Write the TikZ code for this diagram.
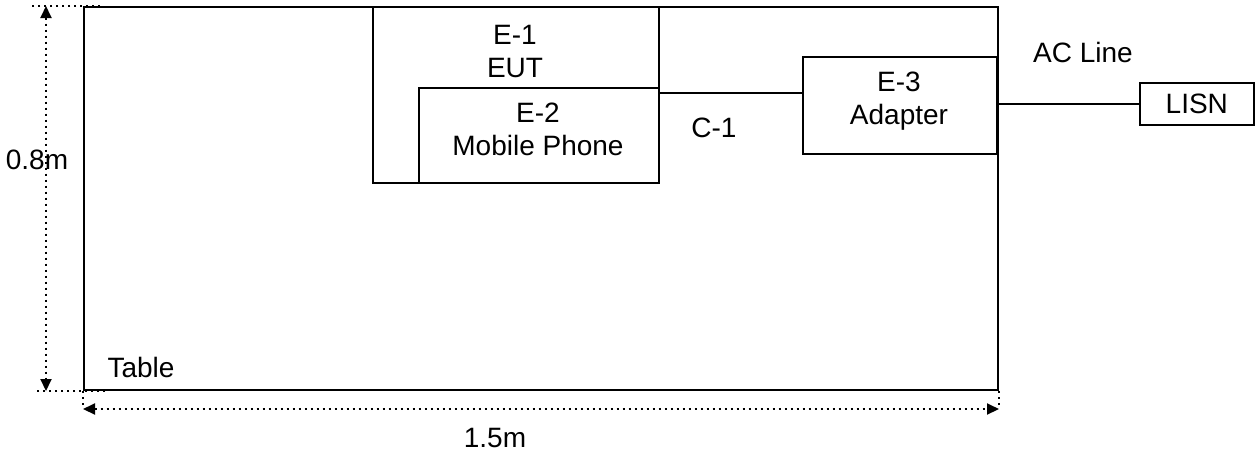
\documentclass[tikz,border=0pt]{standalone}
\usepackage{fontspec}
\setmainfont{Liberation Sans}
\usetikzlibrary{arrows.meta,positioning,calc}

\begin{document}
\begin{tikzpicture}[
  x=0.5pt, y=-0.5pt,
  box/.style={draw, line width=0.8pt, inner sep=0pt, anchor=north west},
  txt/.style={align=center, inner sep=0pt, font=\fontsize{14}{16.5}\selectfont},
  dim/.style={dotted, line width=1pt,
              {Triangle[length=6pt,width=5.5pt]}-{Triangle[length=6pt,width=5.5pt]}},
  ext/.style={dotted, line width=1pt},
  wire/.style={line width=0.8pt}
]
\useasboundingbox (0,0) rectangle (1260,452);

% table and equipment
\node[box, line width=1pt, minimum width=457pt, minimum height=191.5pt] (table) at (83,6) {};
\node[box, minimum width=143pt, minimum height=88pt] (eut) at (372,6) {};
\node[box, fill=white, minimum width=120pt, minimum height=47.5pt] (phone) at (418,87) {};
\node[box, minimum width=97pt, minimum height=48.5pt] (adapter) at (802,56) {};
\node[box, minimum width=57pt, minimum height=21pt, txt] (lisn) at (1139,82) {LISN};

\node[txt] (eutlbl)     at (515,51)  {E-1\\EUT};
\node[txt] (phonelbl)   at (538,129) {E-2\\Mobile Phone};
\node[txt] (adapterlbl) at (899,101) {E-3\\Adapter};
\node[txt] (tablelbl)   at (141,367) {Table};

% cables
\coordinate (c1in) at ($(adapter.north west)+(0,37)$);
\draw[wire] (eut.east |- c1in) -- (c1in);
\node[txt] (c1lbl) at (714,128) {C-1};
\draw[wire] (table.east |- lisn.west) -- (lisn.west);
\node[txt] (aclbl) at (1083,52) {AC Line};

% dimensions
\coordinate (vdim) at (46,0);
\coordinate (hdim) at (0,409);
\draw[ext] ($(table.north west)+(17,0)$) -- ++(-70,0);
\draw[ext] ($(table.south west)+(22,0)$) -- ++(-70,0);
\draw[ext] (table.south west) -- (hdim -| table.south west);
\draw[ext] (table.south east) -- (hdim -| table.south east);
\draw[dim] (vdim |- table.north west) -- (vdim |- table.south west);
\draw[dim] (hdim -| table.south west) -- (hdim -| table.south east);
\node[txt] (hlbl) at (37,160)  {0.8m};
\node[txt] (wlbl) at (495,438) {1.5m};
\end{tikzpicture}
\end{document}
